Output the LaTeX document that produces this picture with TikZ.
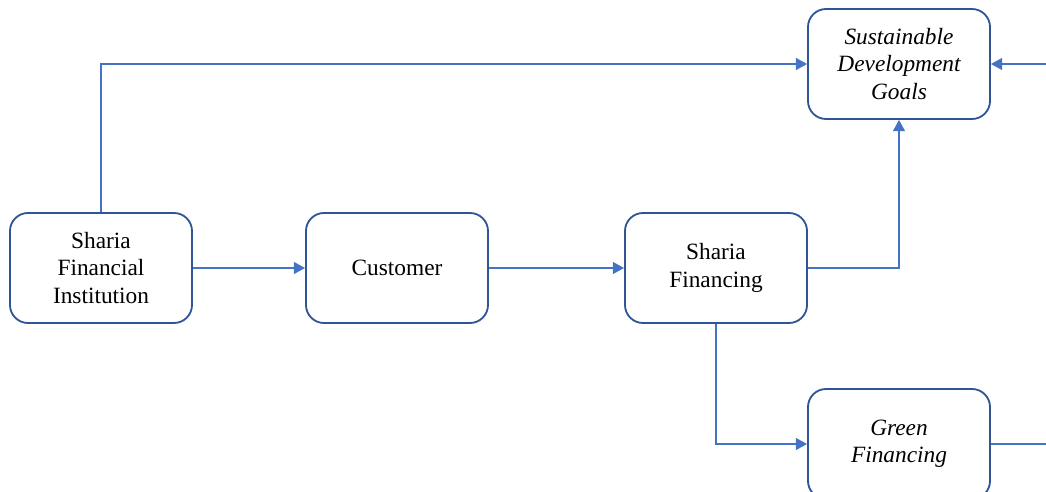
\documentclass[tikz,border=0pt]{standalone}
\usepackage{fontspec}
\setmainfont{Liberation Serif}
\usepackage{xcolor}
\usetikzlibrary{positioning}
\usetikzlibrary{calc}
\usetikzlibrary{arrows.meta}

\definecolor{boxblue}{HTML}{2F5597}
\definecolor{lineblue}{HTML}{4472C4}

\tikzset{
  block/.style={draw=boxblue,line width=1.3pt,rounded corners=0.45cm,fill=white,
    minimum width=4.55cm,minimum height=2.75cm,align=center,
    font=\fontsize{16.6}{19.4}\selectfont},
  link/.style={draw=lineblue,line width=1pt,-{Triangle[length=8pt,width=8.5pt]}}
}

\begin{document}
\begin{tikzpicture}
\useasboundingbox (0,0) rectangle (26.15,-12.3);
\clip (0,0) rectangle (26.15,-12.3);
\node[block] (SFI) at (2.525,-6.7) {Sharia\\Financial\\Institution};
\node[block] (C) at (9.925,-6.7) {Customer};
\node[block] (SF) at (17.9,-6.7) {Sharia\\Financing};
\node[block] (SDG) at (22.475,-1.6) {\itshape Sustainable\\\itshape Development\\\itshape Goals};
\node[block] (GF) at (22.475,-11.1) {\itshape Green\\\itshape Financing};
\coordinate (R) at (26.6,-11.1);
\draw[link] (SFI.north) |- (SDG.west);
\draw[link] (SFI) -- (C);
\draw[link] (C) -- (SF);
\draw[link] (SF.east) -| (SDG.south);
\draw[link] (SF.south) |- (GF.west);
\draw[link] (GF.east) -- (R) |- (SDG.east);
\end{tikzpicture}
\end{document}
